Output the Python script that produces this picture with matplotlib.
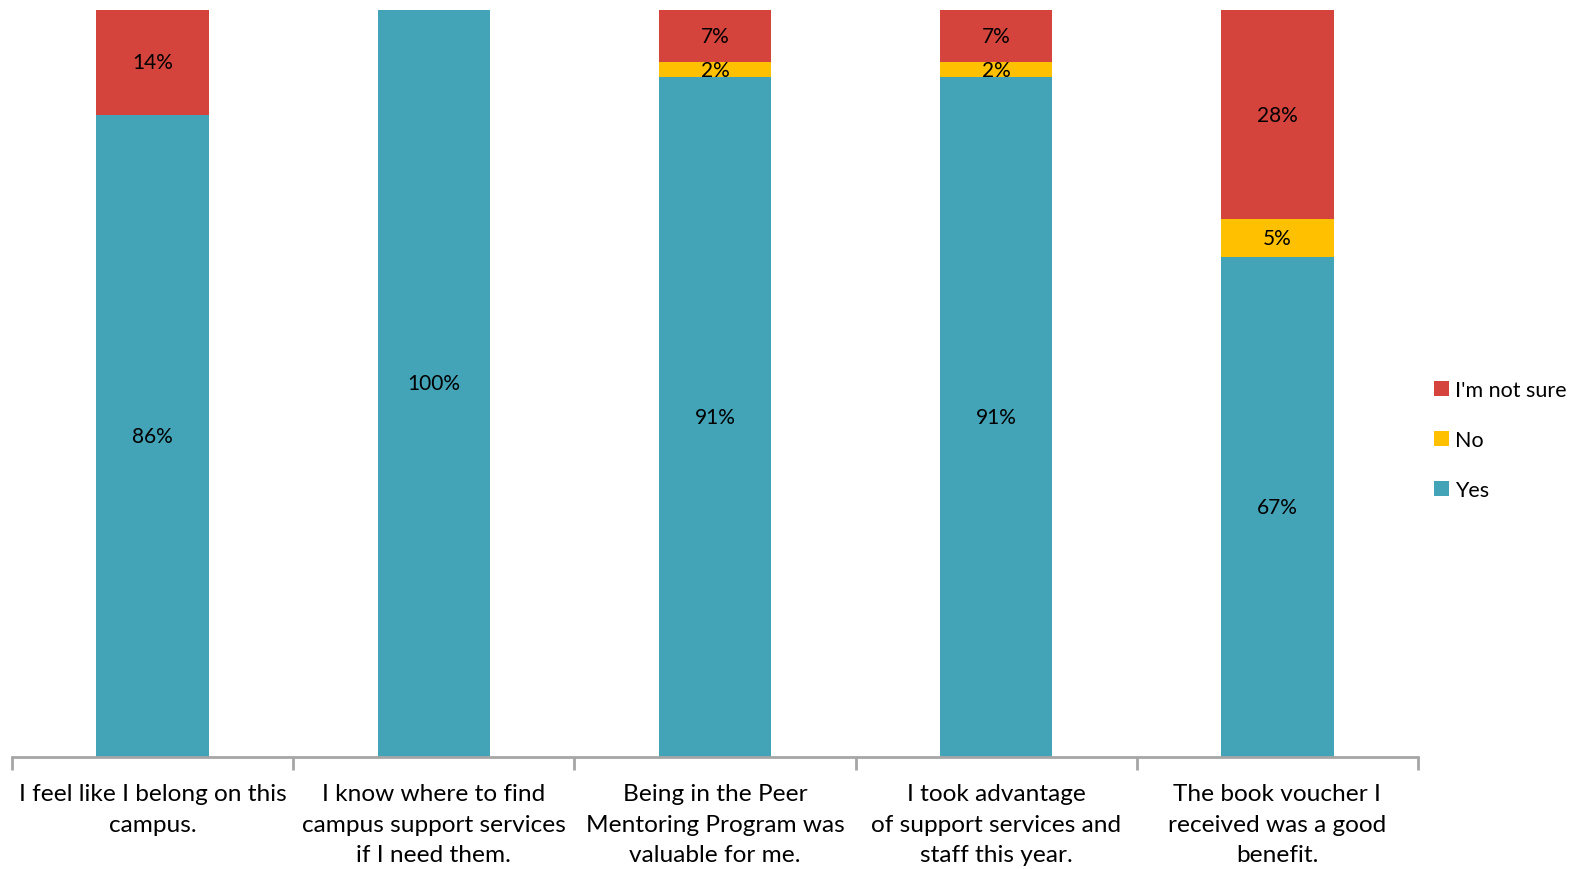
import matplotlib
matplotlib.use("Agg")
import matplotlib.pyplot as plt
import numpy as np

plt.rcParams['font.family'] = ['Lato', 'DejaVu Sans']

categories = [
    "I feel like I belong on this\ncampus.",
    "I know where to find\ncampus support services\nif I need them.",
    "Being in the Peer\nMentoring Program was\nvaluable for me.",
    "I took advantage\nof support services and\nstaff this year.",
    "The book voucher I\nreceived was a good\nbenefit.",
]
yes = [86, 100, 91, 91, 67]
no = [0, 0, 2, 2, 5]
not_sure = [14, 0, 7, 7, 28]

colors = {"Yes": "#43a3b7", "No": "#ffc000", "I'm not sure": "#d4443d"}

fig = plt.figure(figsize=(15.71, 8.70), dpi=100)
ax = fig.add_axes([12 / 1571, 1 - 758 / 870, 1406 / 1571, 747 / 870])

x = np.arange(len(categories))
w = 0.4
b1 = ax.bar(x, yes, w, color=colors["Yes"], label="Yes")
b2 = ax.bar(x, no, w, bottom=yes, color=colors["No"], label="No")
b3 = ax.bar(x, not_sure, w, bottom=np.add(yes, no), color=colors["I'm not sure"],
            label="I'm not sure")

# percentage labels centred in each segment
for bars, vals in [(b1, yes), (b2, no), (b3, not_sure)]:
    for rect, v in zip(bars, vals):
        if v <= 0:
            continue
        cy = rect.get_y() + rect.get_height() / 2
        ax.text(rect.get_x() + rect.get_width() / 2, cy, f"{v}%",
                ha="center", va="center", fontsize=15, color="black")

ax.set_xlim(-0.5, len(categories) - 0.5)
ax.set_ylim(0, 100)
ax.set_yticks([])
for s in ["top", "right", "left"]:
    ax.spines[s].set_visible(False)
ax.spines["bottom"].set_color("#a6a6a6")
ax.spines["bottom"].set_linewidth(2)

ax.set_xticks(x)
ax.set_xticklabels(categories, fontsize=17.6, linespacing=1.55, va="top")
ax.tick_params(axis="x", which="major", length=0, pad=19)
ax.set_xticks(np.arange(-0.5, len(categories)), minor=True)
ax.tick_params(axis="x", which="minor", length=9, width=2, color="#a6a6a6")

handles = [b3, b2, b1]
leg = fig.legend(handles, [h.get_label() for h in handles], loc="center left",
                 bbox_to_anchor=(1425 / 1571, 1 - 441 / 870), frameon=False,
                 fontsize=15.5, handlelength=0.7, handleheight=0.7,
                 handletextpad=0.3, labelspacing=1.4, borderaxespad=0.0)

fig.savefig("out.png", dpi=100)
